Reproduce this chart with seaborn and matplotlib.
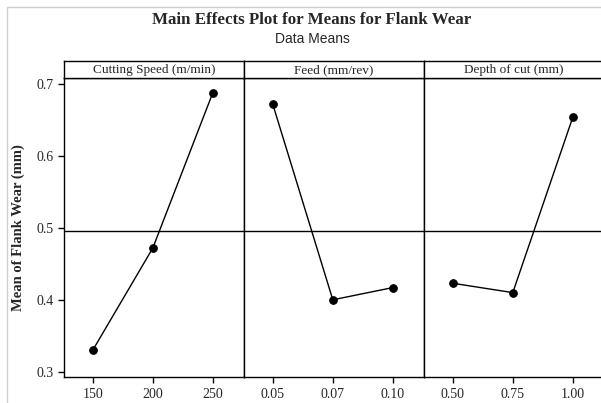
import pandas as pd
import seaborn as sns
import matplotlib.pyplot as plt
from matplotlib.patches import Rectangle

# Factor names and levels
factors = ['Cutting Speed (m/min)', 'Feed (mm/rev)', 'Depth of cut (mm)']
speed_levels = ['150', '200', '250']
feed_levels = ['0.05', '0.07', '0.10']
depth_levels = ['0.50', '0.75', '1.00']

# Mean flank wear at each level
speed_means = [0.330, 0.472, 0.688]
feed_means = [0.672, 0.400, 0.417]
depth_means = [0.423, 0.410, 0.654]

levels = [speed_levels, feed_levels, depth_levels]
means = [speed_means, feed_means, depth_means]

rows = []
for f, lv, mv in zip(factors, levels, means):
    for l, m in zip(lv, mv):
        rows.append({'factor': f, 'level': l, 'mean': m})
df = pd.DataFrame(rows)
grand_mean = df['mean'].mean()

sns.set_style('white')
serif = ['Liberation Serif', 'DejaVu Serif']
plt.rcParams['font.family'] = serif

W, H = 601, 403
fig = plt.figure(figsize=(W / 100, H / 100), dpi=100)

# light gray page border
fig.patches.append(Rectangle((6.5 / W, -0.1), 1.2, 1 - 7 / H + 0.1,
                             transform=fig.transFigure, fill=False,
                             edgecolor='#d0d0d0', linewidth=1))

left_px, panel_px = 64, 180
bottom = 1 - 377 / H
top = 1 - 77.7 / H
strip_h = 16.7 / H

axes = []
for i, f in enumerate(factors):
    x0 = (left_px + i * panel_px) / W
    ax = fig.add_axes([x0, bottom, panel_px / W, top - bottom])
    sub = df[df['factor'] == f]
    sns.pointplot(data=sub, x='level', y='mean', order=levels[i], color='black',
                  markers='o', markersize=5.5, linewidth=1, errorbar=None, ax=ax)
    ax.axhline(grand_mean, color='black', linewidth=1)
    ax.set_xlim(-0.48, 2.52)
    ax.set_ylim(0.2926, 0.709)
    ax.set_xlabel('')
    ax.set_ylabel('')
    for s in ax.spines.values():
        s.set_color('black')
        s.set_linewidth(1)
    ax.tick_params(axis='x', direction='out', length=4, width=1, color='black',
                   labelsize=10, pad=4, bottom=True)
    if i == 0:
        ax.set_yticks([0.3, 0.4, 0.5, 0.6, 0.7])
        ax.tick_params(axis='y', direction='out', length=4, width=1, color='black',
                       labelsize=10, left=True)
    else:
        ax.set_yticks([])
    # strip with factor name
    sax = fig.add_axes([x0, top, panel_px / W, strip_h])
    sax.set_xticks([])
    sax.set_yticks([])
    for s in sax.spines.values():
        s.set_color('black')
        s.set_linewidth(1)
    sax.text(0.5, 0.45, f, ha='center', va='center', fontsize=9.5,
             transform=sax.transAxes)
    axes.append(ax)

axes[0].set_ylabel('Mean of Flank Wear (mm)', fontsize=10.5, fontweight='bold',
                   labelpad=8)

fig.text(312 / W, 1 - 20.5 / H, 'Main Effects Plot for Means for Flank Wear',
         ha='center', va='center', fontsize=12.2, fontweight='bold')
fig.text(312 / W, 1 - 39 / H, 'Data Means', ha='center', va='center',
         fontsize=10, family=['Liberation Sans', 'DejaVu Sans'])

fig.savefig('out.png', dpi=100)
